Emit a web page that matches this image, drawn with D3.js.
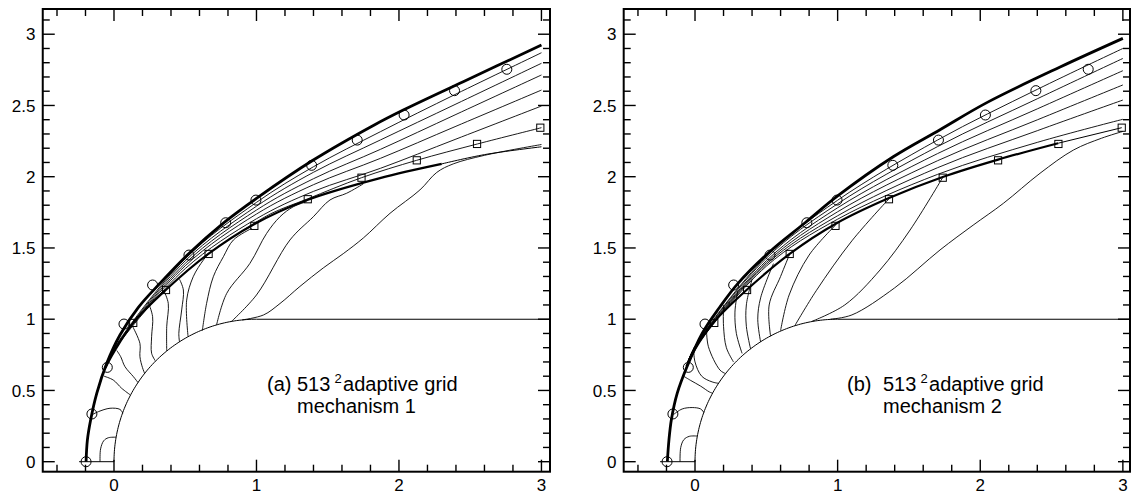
<!DOCTYPE html>
<html><head><meta charset="utf-8">
<script src="https://cdn.jsdelivr.net/npm/d3@7"></script>
<style>body{margin:0;background:#fff}text{font-family:"Liberation Sans",Arial,Helvetica,sans-serif;fill:#000}</style>
</head><body><svg id="c" width="1131" height="494"></svg>
<script>
// ---------- tick labels ----------
const xTickLabels = [0, 1, 2, 3];
const yTickLabels = [0, 0.5, 1, 1.5, 2, 2.5, 3];

// ---------- markers (same in both panels) ----------
const circleMarks = [[-0.196,0],[-0.155,0.335],[-0.047,0.662],[0.07,0.966],[0.271,1.24],[0.526,1.45],[0.784,1.677],[0.996,1.836],[1.387,2.08],[1.707,2.257],[2.036,2.433],[2.39,2.604],[2.757,2.754]];
const squareMarks = [[0.135,0.974],[0.365,1.205],[0.664,1.458],[0.985,1.655],[1.36,1.842],[1.737,1.993],[2.125,2.115],[2.548,2.23],[2.992,2.344]];

// ---------- panel (a) ----------
const shockA = [[-0.196,0],[-0.187,0.15],[-0.164,0.293],[-0.121,0.48],[-0.051,0.69],[0.042,0.889],[0.171,1.083],[0.323,1.252],[0.52,1.455],[0.772,1.678],[1.0,1.848],[1.399,2.117],[1.83,2.365],[2.03,2.468],[2.451,2.667],[3.0,2.924]];
const thickA = [[-0.06,0.66],[0.0,0.77],[0.136,0.976],[0.363,1.205],[0.662,1.458],[0.98,1.665],[1.352,1.835],[1.867,1.99],[2.3,2.09]];
const thickTailA = [[2.3,2.09],[2.6,2.155],[3.0,2.21]];
const fanA1 = [[-0.05,0.69],[0.0,0.795],[0.5,1.425],[1.0,1.82],[1.4,2.07],[1.87,2.316],[2.4,2.58],[3.0,2.870]];
const fanA2 = [[-0.05,0.69],[0.0,0.79],[0.5,1.41],[1.0,1.793],[1.4,2.031],[1.87,2.258],[2.4,2.51],[3.0,2.796]];
const fanA3 = [[-0.05,0.69],[0.0,0.787],[0.5,1.392],[1.0,1.766],[1.4,1.986],[1.87,2.192],[2.4,2.437],[3.0,2.714]];
const fanA4 = [[-0.05,0.69],[0.0,0.785],[0.5,1.375],[1.0,1.738],[1.4,1.944],[1.87,2.129],[2.4,2.354],[3.0,2.608]];
const fanA5 = [[-0.05,0.69],[0.0,0.782],[0.5,1.355],[1.0,1.705],[1.4,1.897],[1.87,2.059],[2.4,2.264],[3.0,2.496]];
const fanA6 = [[0.9,1.62],[1.1,1.74],[1.36,1.845],[1.737,1.993],[2.124,2.115],[2.551,2.23],[3.0,2.344]];
const bodyLinesA = [
  [[-0.098,0],[-0.094,0.09],[-0.072,0.147],[-0.04,0.168],[0.015,0.172]],
  [[-0.157,0.328],[-0.11,0.351],[-0.028,0.375],[0.042,0.367],[0.062,0.34]],
  [[-0.07,0.6],[-0.005,0.573],[0.054,0.515],[0.114,0.469]],
  [[0.02,0.78],[0.047,0.737],[0.077,0.667],[0.136,0.597],[0.168,0.556]],
  [[0.13,0.95],[0.182,0.83],[0.182,0.737],[0.2,0.66],[0.215,0.62]],
  [[0.24,1.12],[0.271,1.018],[0.264,0.877],[0.264,0.761],[0.29,0.708]],
  [[0.35,1.2],[0.381,1.111],[0.37,0.947],[0.37,0.777]],
  [[0.46,1.28],[0.487,1.205],[0.475,1.065],[0.455,0.9],[0.46,0.84]],
  [[0.662,1.458],[0.627,1.415],[0.556,1.298],[0.51,1.134],[0.52,0.877]],
  [[0.966,1.637],[0.838,1.556],[0.768,1.439],[0.697,1.298],[0.65,1.111],[0.62,0.92]],
  [[1.352,1.825],[1.258,1.789],[1.165,1.719],[1.071,1.602],[0.954,1.392],[0.791,1.181],[0.72,0.96]],
  [[1.75,1.95],[1.633,1.884],[1.516,1.837],[1.399,1.719],[1.235,1.556],[1.0,1.17],[0.82,0.98]],
  [[0.9,0.995],[1.05,1.03],[1.165,1.11],[1.305,1.23],[1.469,1.36],[1.609,1.46],[1.75,1.57],[1.937,1.743],[2.147,1.907],[2.265,2.03],[2.381,2.09],[2.6,2.15],[3.0,2.226]]
];

// ---------- panel (b) ----------
const shockB = [[-0.194,0],[-0.183,0.15],[-0.165,0.3],[-0.125,0.48],[-0.055,0.67],[0.05,0.9],[0.17,1.08],[0.3,1.25],[0.52,1.47],[0.77,1.675],[1.0,1.865],[1.39,2.14],[1.718,2.33],[2.046,2.52],[2.56,2.77],[3.0,2.971]];
const thickB = [[-0.06,0.67],[0.0,0.79],[0.133,0.98],[0.367,1.21],[0.666,1.46],[0.987,1.67],[1.36,1.85],[1.737,1.998],[2.125,2.12],[2.546,2.235]];
const thickTailB = [[2.546,2.235],[2.992,2.344]];
const fanB1 = [[-0.05,0.7],[0.0,0.81],[0.5,1.44],[1.0,1.835],[1.7,2.257],[2.4,2.613],[3.0,2.90]];
const fanB2 = [[-0.05,0.7],[0.0,0.807],[0.5,1.428],[1.0,1.81],[1.7,2.211],[2.4,2.547],[3.0,2.83]];
const fanB3 = [[-0.05,0.7],[0.0,0.804],[0.5,1.41],[1.0,1.782],[1.7,2.162],[2.4,2.476],[3.0,2.744]];
const fanB4 = [[-0.05,0.7],[0.0,0.801],[0.5,1.397],[1.0,1.754],[1.7,2.112],[2.4,2.399],[3.0,2.644]];
const fanB5 = [[-0.05,0.7],[0.0,0.798],[0.5,1.385],[1.0,1.726],[1.7,2.063],[2.4,2.323],[3.0,2.538]];
const fanB6 = [[-0.05,0.7],[0.0,0.795],[0.5,1.372],[1.0,1.702],[1.7,2.016],[2.4,2.241],[3.0,2.403]];
const bodyLinesB = [
  [[-0.105,0],[-0.1,0.1],[-0.078,0.155],[-0.04,0.178],[0.016,0.18]],
  [[-0.152,0.33],[-0.09,0.37],[-0.02,0.38],[0.04,0.37],[0.062,0.345]],
  [[-0.08,0.6],[-0.03,0.57],[0.04,0.53],[0.1,0.49],[0.125,0.48]],
  [[-0.01,0.8],[0.0,0.7],[0.047,0.6],[0.12,0.56],[0.165,0.55]],
  [[0.08,0.94],[0.094,0.807],[0.175,0.643],[0.21,0.62]],
  [[0.2,1.1],[0.2,0.95],[0.22,0.8],[0.27,0.7]],
  [[0.3,1.2],[0.28,1.05],[0.29,0.9],[0.33,0.76]],
  [[0.4,1.28],[0.36,1.1],[0.36,0.95],[0.39,0.79]],
  [[0.55,1.39],[0.46,1.15],[0.44,1.0],[0.46,0.84]],
  [[0.664,1.458],[0.6,1.3],[0.52,1.1],[0.53,0.88]],
  [[0.985,1.66],[0.8,1.45],[0.66,1.17],[0.6,0.92]],
  [[1.36,1.845],[1.1,1.55],[0.85,1.2],[0.7,0.955]],
  [[1.737,1.995],[1.508,1.626],[1.297,1.345],[1.05,1.1],[0.82,0.985]],
  [[0.95,1.0],[1.1,1.03],[1.4,1.22],[1.718,1.486],[1.95,1.66],[2.162,1.813],[2.419,2.024],[2.653,2.187],[2.85,2.27],[3.0,2.318]]
];

// ---------- drawing ----------
const svg = d3.select("#c");
svg.append("rect").attr("width",1131).attr("height",494).attr("fill","#fff");

const panels = [
  {xr:[42.75,550], xd:[-0.5,3.06], shock:shockA, thick:thickA, tail:thickTailA,
   fans:[fanA1,fanA2,fanA3,fanA4,fanA5,fanA6], body:bodyLinesA,
   label:{tag:"(a)", tagX:267, numX:297, mech:"mechanism 1"}},
  {xr:[623.7,1130], xd:[-0.5,3.05], shock:shockB, thick:thickB, tail:thickTailB,
   fans:[fanB1,fanB2,fanB3,fanB4,fanB5,fanB6], body:bodyLinesB,
   label:{tag:"(b)", tagX:847, numX:883, mech:"mechanism 2"}}
];
const yd=[-0.0702,3.177], yr=[471.7,9];

panels.forEach(p=>{
  const x = d3.scaleLinear().domain(p.xd).range(p.xr);
  const y = d3.scaleLinear().domain(yd).range(yr);
  const g = svg.append("g");
  const clipId = "clip"+p.label.tag.replace(/\W/g,"");
  svg.append("clipPath").attr("id",clipId).append("rect")
    .attr("x",p.xr[0]).attr("y",yr[1]).attr("width",p.xr[1]-p.xr[0]).attr("height",yr[0]-yr[1]);
  const plot = g.append("g").attr("clip-path",`url(#${clipId})`);
  const line = d3.line().x(d=>x(d[0])).y(d=>y(d[1])).curve(d3.curveCatmullRom.alpha(0.5));
  const straight = d3.line().x(d=>x(d[0])).y(d=>y(d[1]));

  // body: circle radius 1 centred at (1,0), then flat y=1
  const bodyPts = d3.range(0,91,1).map(a=>{const t=a*Math.PI/180; return [1-Math.cos(t), Math.sin(t)];});
  plot.append("path").attr("d",straight(bodyPts)).attr("fill","none").attr("stroke","#000").attr("stroke-width",1);
  plot.append("path").attr("d",straight([[1,1],[p.xd[1],1]])).attr("fill","none").attr("stroke","#000").attr("stroke-width",1.1);
  plot.append("path").attr("d",straight([[-0.245,0],[0,0]])).attr("fill","none").attr("stroke","#000").attr("stroke-width",1);

  p.body.forEach(l=>plot.append("path").attr("d",line(l)).attr("fill","none").attr("stroke","#000").attr("stroke-width",0.9));
  p.fans.forEach(l=>plot.append("path").attr("d",line(l)).attr("fill","none").attr("stroke","#000").attr("stroke-width",0.9));
  plot.append("path").attr("d",line(p.tail)).attr("fill","none").attr("stroke","#000").attr("stroke-width",1);
  plot.append("path").attr("d",line(p.thick)).attr("fill","none").attr("stroke","#000").attr("stroke-width",2.2);
  plot.append("path").attr("d",line(p.shock)).attr("fill","none").attr("stroke","#000").attr("stroke-width",2.8);

  plot.selectAll(null).data(circleMarks).enter().append("circle")
    .attr("cx",d=>x(d[0])).attr("cy",d=>y(d[1])).attr("r",5)
    .attr("fill","none").attr("stroke","#000").attr("stroke-width",1);
  plot.selectAll(null).data(squareMarks).enter().append("rect")
    .attr("x",d=>x(d[0])-3.6).attr("y",d=>y(d[1])-3.6).attr("width",7.2).attr("height",7.2)
    .attr("fill","none").attr("stroke","#000").attr("stroke-width",1);

  // frame
  g.append("rect").attr("x",p.xr[0]).attr("y",yr[1]).attr("width",p.xr[1]-p.xr[0]).attr("height",yr[0]-yr[1])
    .attr("fill","none").attr("stroke","#000").attr("stroke-width",2);

  // ticks
  const xMinor = d3.range(-4,31,2).map(v=>v/10).filter(v=>!xTickLabels.includes(v));
  const yMinor = d3.range(0,32,1).map(v=>v/10).filter(v=>!yTickLabels.includes(v));
  const tk = g.append("g").attr("stroke","#000").attr("stroke-width",1.4);
  const addX=(v,len)=>{
    tk.append("line").attr("x1",x(v)).attr("x2",x(v)).attr("y1",yr[0]).attr("y2",yr[0]-len);
    tk.append("line").attr("x1",x(v)).attr("x2",x(v)).attr("y1",yr[1]).attr("y2",yr[1]+len);
  };
  const addY=(v,len)=>{
    tk.append("line").attr("x1",p.xr[0]).attr("x2",p.xr[0]+len).attr("y1",y(v)).attr("y2",y(v));
    tk.append("line").attr("x1",p.xr[1]).attr("x2",p.xr[1]-len).attr("y1",y(v)).attr("y2",y(v));
  };
  xTickLabels.forEach(v=>addX(v,12)); xMinor.forEach(v=>addX(v,7));
  yTickLabels.forEach(v=>addY(v,12)); yMinor.forEach(v=>addY(v,7));

  g.selectAll(null).data(xTickLabels).enter().append("text")
    .attr("x",d=>x(d)).attr("y",491).attr("text-anchor","middle").attr("font-size",17).text(d=>d);
  g.selectAll(null).data(yTickLabels).enter().append("text")
    .attr("x",p.xr[0]-7.3).attr("y",d=>y(d)+6.1).attr("text-anchor","end").attr("font-size",17).text(d=>d);

  // annotation: two lines
  const L=p.label;
  const t=g.append("text").attr("x",L.tagX).attr("y",390.6).attr("font-size",20);
  t.append("tspan").text(L.tag);
  t.append("tspan").attr("x",L.numX).text("513");
  t.append("tspan").attr("dx",4).attr("dy",-8).attr("font-size",13).text("2");
  t.append("tspan").attr("dx",1.5).attr("dy",8).text("adaptive grid");
  g.append("text").attr("x",L.numX).attr("y",413.2).attr("font-size",20).text(L.mech);
});
</script></body></html>
